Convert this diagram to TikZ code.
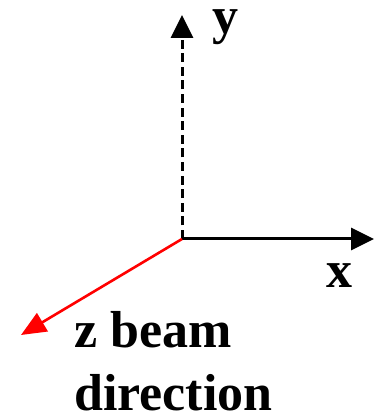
\documentclass[tikz,border=0pt]{standalone}
\usepackage{fontspec}
\setmainfont{Liberation Serif}
\usetikzlibrary{arrows.meta}
\tikzset{
  axisline/.style={line width=3pt, -{Triangle[length=23pt,width=22pt]}},
  lbl/.style={inner sep=0pt, anchor=base west, font=\bfseries\fontsize{52}{64}\selectfont}
}
\begin{document}
\begin{tikzpicture}[x=1pt,y=1pt]
\useasboundingbox (0,0) rectangle (380,418);
\coordinate (O) at (182,179);
\coordinate (Y) at (182,403);
\coordinate (X) at (374,179);
\coordinate (Z) at (21,83);
\draw[axisline, dash pattern=on 9pt off 4.6pt] (O) -- (Y);
\draw[axisline] (O) -- (X);
\draw[axisline, red, line width=2.6pt, -{Triangle[length=25pt,width=21pt]}] (O) -- (Z);
\node[lbl] (ylab) at (212,384) {y};
\node[lbl] (xlab) at (326,130) {x};
\node[lbl] (zlab1) at (74,70) {z beam};
\node[lbl] (zlab2) at (74,7) {direction};
\end{tikzpicture}
\end{document}
